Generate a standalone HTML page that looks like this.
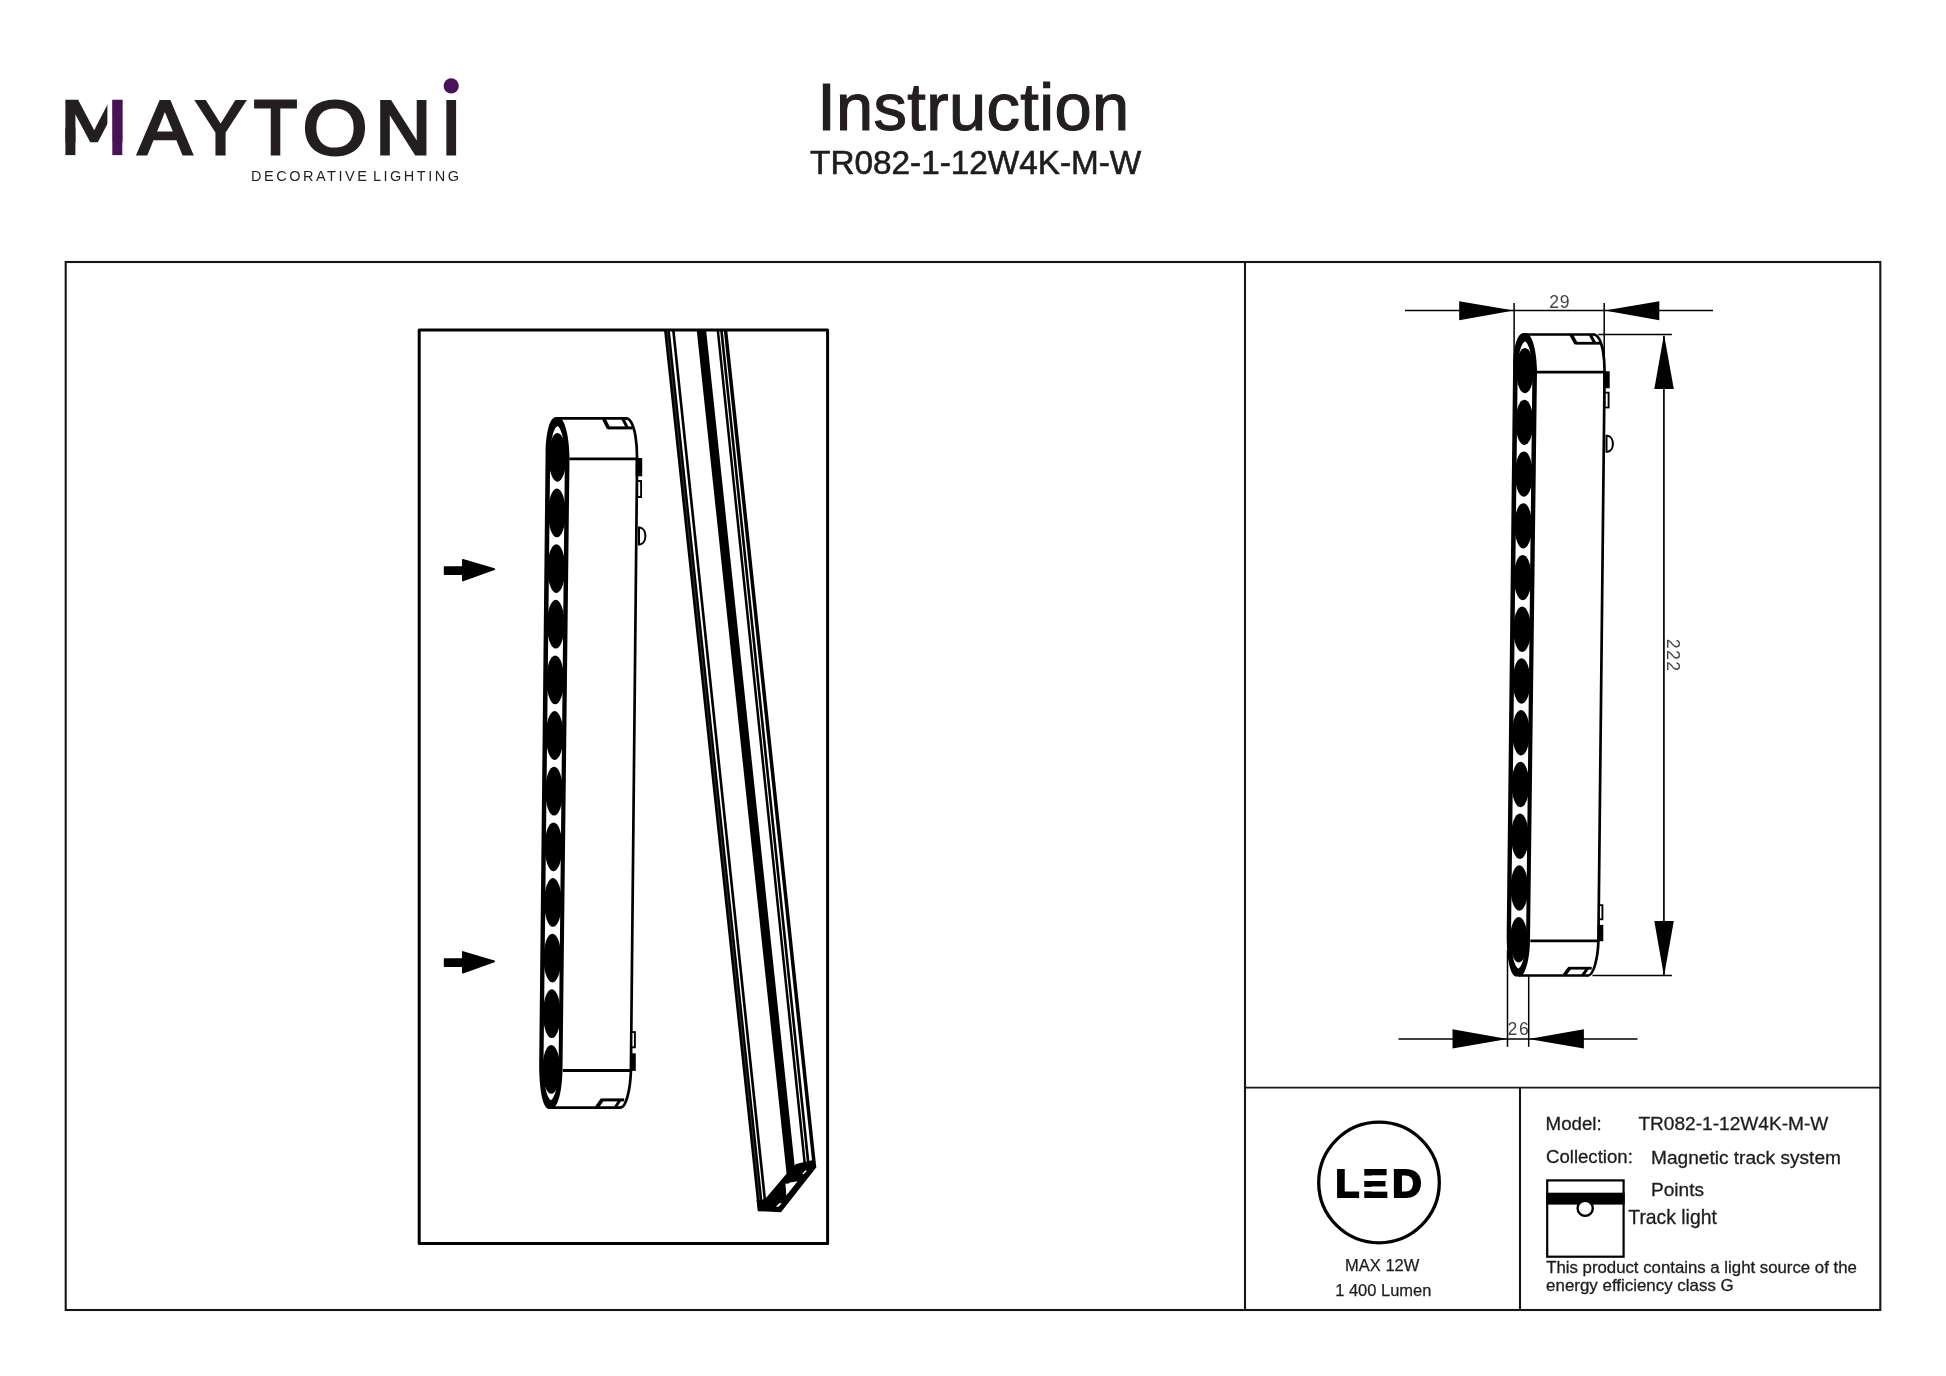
<!DOCTYPE html>
<html lang="en"><head><meta charset="utf-8"><title>Instruction TR082-1-12W4K-M-W</title>
<style>
html,body{margin:0;padding:0;background:#fff;}
body{width:1946px;height:1376px;overflow:hidden;font-family:"Liberation Sans",sans-serif;}
svg{display:block;position:absolute;left:0;top:0;will-change:transform;}
text{font-family:"Liberation Sans",sans-serif;}
</style></head><body>
<svg width="1946" height="1376" viewBox="0 0 1946 1376">
<g id="logo">
<text y="153.50" font-size="75.29" fill="#231f20" stroke="#231f20" stroke-width="3.2" stroke-linejoin="miter" transform="translate(0,100.10) scale(1,0.7636) translate(0,-100.10)"><tspan x="60.41" textLength="66.87" lengthAdjust="spacingAndGlyphs">M</tspan></text><text y="153.50" font-size="75.29" fill="#231f20" stroke="#231f20" stroke-width="3.2" stroke-linejoin="miter"><tspan x="138.34" textLength="53.21" lengthAdjust="spacingAndGlyphs">A</tspan><tspan x="195.55" textLength="50.10" lengthAdjust="spacingAndGlyphs">Y</tspan><tspan x="253.92" textLength="43.10" lengthAdjust="spacingAndGlyphs">T</tspan><tspan x="302.67" textLength="64.49" lengthAdjust="spacingAndGlyphs">O</tspan><tspan x="375.59" textLength="55.59" lengthAdjust="spacingAndGlyphs">N</tspan><tspan x="441.17" textLength="19.96" lengthAdjust="spacingAndGlyphs">I</tspan></text>
<rect x="65.4" y="128" width="10" height="27.10" fill="#231f20"/>
<rect x="107.4" y="98" width="5.2" height="59" fill="#fff"/>
<rect x="112.3" y="100.1" width="10" height="55" fill="#4a1259"/>
<circle cx="451.2" cy="85.9" r="7.6" fill="#4a1259"/>
<text x="251" y="180.9" font-size="14.5" fill="#231f20" textLength="208" lengthAdjust="spacing" word-spacing="-3">DECORATIVE LIGHTING</text>
</g>
<text x="973.3" y="129.7" font-size="66.8" letter-spacing="0.38" text-anchor="middle" fill="#231f20" stroke="#231f20" stroke-width="1.2">Instruction</text>
<text x="975.7" y="173.5" font-size="33.3" text-anchor="middle" fill="#1d1d1b" stroke="#1d1d1b" stroke-width="0.6">TR082-1-12W4K-M-W</text>
<g fill="none" stroke="#161616" stroke-width="2.1">
<rect x="65.7" y="262" width="1814.6" height="1048"/>
<line x1="1245" y1="262" x2="1245" y2="1310"/>
<line x1="1245" y1="1087.6" x2="1880.3" y2="1087.6" stroke-width="1.9"/>
<line x1="1520" y1="1087.6" x2="1520" y2="1310"/>
</g>
<rect x="419.2" y="330.05" width="408.4" height="913.35" fill="none" stroke="#000" stroke-width="3" stroke-linejoin="round"/>
<defs><g id="lamp"><path d="M556,418.4 L626.2,418.4 C632,419 636.6,437 637.2,458.5 L631,1071 C630.4,1090 626,1107.7 620.5,1107.7 L551,1107.7 Z" fill="#fff" stroke="none"/>
<path d="M545.6,452 C546,432 549.8,417 556,417 L558,417 C564.6,417 569.3,436 569.5,457 L562.5,1069.5 C562.3,1090 558,1108.9 551.5,1108.9 L549,1108.9 C542.6,1108.9 538.9,1088 539.2,1062 Z" fill="#000"/>
<path d="M550.2,456 C550.3,445 552.6,428.5 557.5,426 C562.2,428.5 564.8,445 564.9,457 L558.6,1066 C558.4,1079 556.2,1097 551.0,1100.2 C545.8,1097 543.4,1079 543.5,1064 Z" fill="#fff"/>
<ellipse cx="557.45" cy="457.30" rx="8.8" ry="24.4" fill="#000"/>
<ellipse cx="556.89" cy="512.94" rx="8.8" ry="24.4" fill="#000"/>
<ellipse cx="556.32" cy="568.58" rx="8.8" ry="24.4" fill="#000"/>
<ellipse cx="555.76" cy="624.22" rx="8.8" ry="24.4" fill="#000"/>
<ellipse cx="555.20" cy="679.86" rx="8.8" ry="24.4" fill="#000"/>
<ellipse cx="554.63" cy="735.50" rx="8.8" ry="24.4" fill="#000"/>
<ellipse cx="554.07" cy="791.14" rx="8.8" ry="24.4" fill="#000"/>
<ellipse cx="553.50" cy="846.78" rx="8.8" ry="24.4" fill="#000"/>
<ellipse cx="552.94" cy="902.42" rx="8.8" ry="24.4" fill="#000"/>
<ellipse cx="552.38" cy="958.06" rx="8.8" ry="24.4" fill="#000"/>
<ellipse cx="551.81" cy="1013.70" rx="8.8" ry="24.4" fill="#000"/>
<ellipse cx="551.25" cy="1069.34" rx="8.8" ry="24.4" fill="#000"/>
<g fill="none" stroke="#000" stroke-width="2.7" stroke-linecap="butt" stroke-linejoin="round">
<path d="M556,418.4 L626.2,418.4"/>
<path d="M626.2,418.4 C630,418.6 633.4,425 635.4,435.5 C636.6,443 637.1,451 637.1,458.5 L630.9,1071 C630.3,1090 626,1107.7 620.5,1107.7" stroke-width="2.7" stroke-linecap="round"/>
<path d="M620.5,1107.7 L551,1107.7"/>
<path d="M569.4,458.9 L637.2,458.9" stroke-width="2.9"/>
<path d="M562.8,1070.5 L631,1070.5" stroke-width="2.9"/>
<path d="M607.9,427.9 L632.6,427.9" stroke-width="3"/>
<path d="M603.6,418.5 L608.6,428.4" stroke-width="3.7"/>
<path d="M622.6,418.5 L627.4,427.9" stroke-width="3"/>
<path d="M601.6,1099.9 L624.2,1099.9" stroke-width="3"/>
<path d="M596.6,1107.6 L602.4,1099.4" stroke-width="3.7"/>
<path d="M620.2,1099.8 L615.0,1107.7" stroke-width="3"/>
</g>
<rect x="635.6" y="458" width="6.6" height="18.3" fill="#000"/>
<rect x="637.3" y="481" width="3.8" height="16" fill="#fff" stroke="#000" stroke-width="1.9"/>
<path d="M639,527.4 L640,527.4 C647.2,528.6 647.2,543.4 640,544.6 L639,544.6 Z" fill="#fff" stroke="#000" stroke-width="2"/>
<rect x="631.5" y="1032.1" width="3.4" height="15.2" fill="#fff" stroke="#000" stroke-width="1.9"/>
<rect x="630.2" y="1053.3" width="5.6" height="17.6" fill="#000"/></g></defs>
<use href="#lamp"/>
<path d="M444.7,567.1 L462.9,567.1 L462.9,559.9 L494.2,569.2 L462.9,580.5 L462.9,574.0 L444.7,574.0 Z" fill="#000" stroke="#000" stroke-width="1.8" stroke-linejoin="round"/>
<path d="M444.7,959.2 L462.9,959.2 L462.9,952.0 L494.2,961.3 L462.9,972.6 L462.9,966.1 L444.7,966.1 Z" fill="#000" stroke="#000" stroke-width="1.8" stroke-linejoin="round"/>
<clipPath id="boxclip"><rect x="418.6" y="329.6" width="409.2" height="913.2"/></clipPath>
<g clip-path="url(#boxclip)">
<polygon points="664,330 669.8,330 762.9,1205 757.9,1211" fill="#000"/>
<line x1="667" y1="330" x2="759.7" y2="1200" stroke="#555" stroke-width="0.6"/>
<line x1="673.1" y1="328" x2="764.9" y2="1200" stroke="#000" stroke-width="2.6"/>
<polygon points="696.7,330 706.1,330 794.7,1166 786.8,1176" fill="#000"/>
<line x1="717.38" y1="326" x2="805.20" y2="1168" stroke="#000" stroke-width="2.5"/>
<line x1="720.98" y1="326" x2="808.80" y2="1168" stroke="#000" stroke-width="2.6"/>
<line x1="725.07" y1="326" x2="814.58" y2="1168" stroke="#000" stroke-width="3.5"/>
<polygon points="756.5,1200 758,1211.2 781,1212.2 816.2,1167.6 813,1160 796,1164.0 786.7,1173.6 766.4,1197.6 762,1200" fill="#000"/>
<polygon points="785.4,1183.4 788,1183.8 790,1182.4 797.6,1181.2 786.3,1195.6" fill="#fff"/>
<polygon points="776,1206.5 779.6,1202.9 781.6,1203.4 778.1,1207" fill="#fff"/>
<polygon points="802,1173.9 805.5,1170.3 806.8,1170.9 803.5,1174.2" fill="#fff"/>
</g>
<g stroke="#000" stroke-width="1.5" fill="none">
<line x1="1405" y1="310.5" x2="1713" y2="310.5"/>
<line x1="1514.1" y1="303.1" x2="1514.1" y2="372"/>
<line x1="1604.2" y1="303.1" x2="1604.2" y2="372"/>
<line x1="1663.9" y1="336" x2="1663.9" y2="975" stroke-width="1.7"/>
<line x1="1598.3" y1="334.6" x2="1671.9" y2="334.6"/>
<line x1="1592.4" y1="975.6" x2="1671.9" y2="975.6"/>
<line x1="1398.5" y1="1038.9" x2="1637.5" y2="1038.9"/>
<line x1="1507.5" y1="950" x2="1507.5" y2="1046.8"/>
<line x1="1528.7" y1="960" x2="1528.7" y2="1046.8"/>
</g>
<use href="#lamp" transform="translate(967.5,-54.70) scale(1.0,0.93)"/>
<g fill="#000">
<polygon points="1459.2,301.2 1513.8,310.5 1459.2,320.2"/>
<polygon points="1659.3,301.2 1604.6,310.5 1659.3,320.2"/>
<polygon points="1664,334.2 1673.8,389.1 1654.3,389.1"/>
<polygon points="1664,976.2 1673.8,921 1654.3,921"/>
<polygon points="1452.5,1029.2 1507.5,1038.9 1452.5,1048.4"/>
<polygon points="1583.9,1029.2 1528.6,1038.9 1583.9,1048.4"/>
</g>
<g fill="#444" font-size="17.6">
<text x="1559.4" y="307.7" text-anchor="middle" textLength="20.5" lengthAdjust="spacing">29</text>
<text x="1518.2" y="1035.4" text-anchor="middle" textLength="21.3" lengthAdjust="spacing">26</text>
<text transform="translate(1667,654.9) rotate(90)" text-anchor="middle" textLength="32.4" lengthAdjust="spacing">222</text>
</g>
<circle cx="1379" cy="1182.5" r="60.3" fill="none" stroke="#000" stroke-width="3.3"/>
<text y="1197.15" font-size="39.24" font-weight="bold" fill="#000" stroke="#000" stroke-width="2.1" stroke-linejoin="miter"><tspan x="1335.54" textLength="23.81" lengthAdjust="spacingAndGlyphs">L</tspan><tspan x="1362.83" textLength="25.08" lengthAdjust="spacingAndGlyphs">E</tspan><tspan x="1392.22" textLength="29.44" lengthAdjust="spacingAndGlyphs">D</tspan></text>
<rect x="1362.5" y="1175.6" width="26.5" height="5.4" fill="#fff"/>
<rect x="1362.5" y="1186.9" width="26.5" height="4.4" fill="#fff"/>
<g fill="#1d1d1b" stroke="#1d1d1b" stroke-width="0.25" font-size="16.5" text-anchor="middle">
<text x="1382.2" y="1270.6">MAX 12W</text>
<text x="1383.3" y="1296.2">1 400 Lumen</text>
</g>
<g fill="#1d1d1b" stroke="#1d1d1b" stroke-width="0.3" font-size="19.1">
<text x="1545.6" y="1130.3" font-size="18.7">Model:</text>
<text x="1638.4" y="1130.3">TR082-1-12W4K-M-W</text>
<text x="1546.0" y="1162.6" font-size="18.6">Collection:</text>
<text x="1651.0" y="1163.8">Magnetic track system</text>
<text x="1651.0" y="1196.0">Points</text>
<text x="1628.3" y="1223.7" font-size="19.35">Track light</text>
</g>
<g fill="#1d1d1b" stroke="#1d1d1b" stroke-width="0.3" font-size="16.8">
<text x="1546.2" y="1272.5">This product contains a light source of the</text>
<text x="1546.1" y="1290.6" font-size="16.92">energy efficiency class G</text>
</g>
<rect x="1547.2" y="1180.4" width="76.4" height="76.3" fill="#fff" stroke="#000" stroke-width="2.2"/>
<rect x="1546.1" y="1192.7" width="78.6" height="11.9" fill="#000"/>
<circle cx="1585.2" cy="1208.3" r="7.6" fill="#fff" stroke="#000" stroke-width="2.4"/>
</svg>
</body></html>
